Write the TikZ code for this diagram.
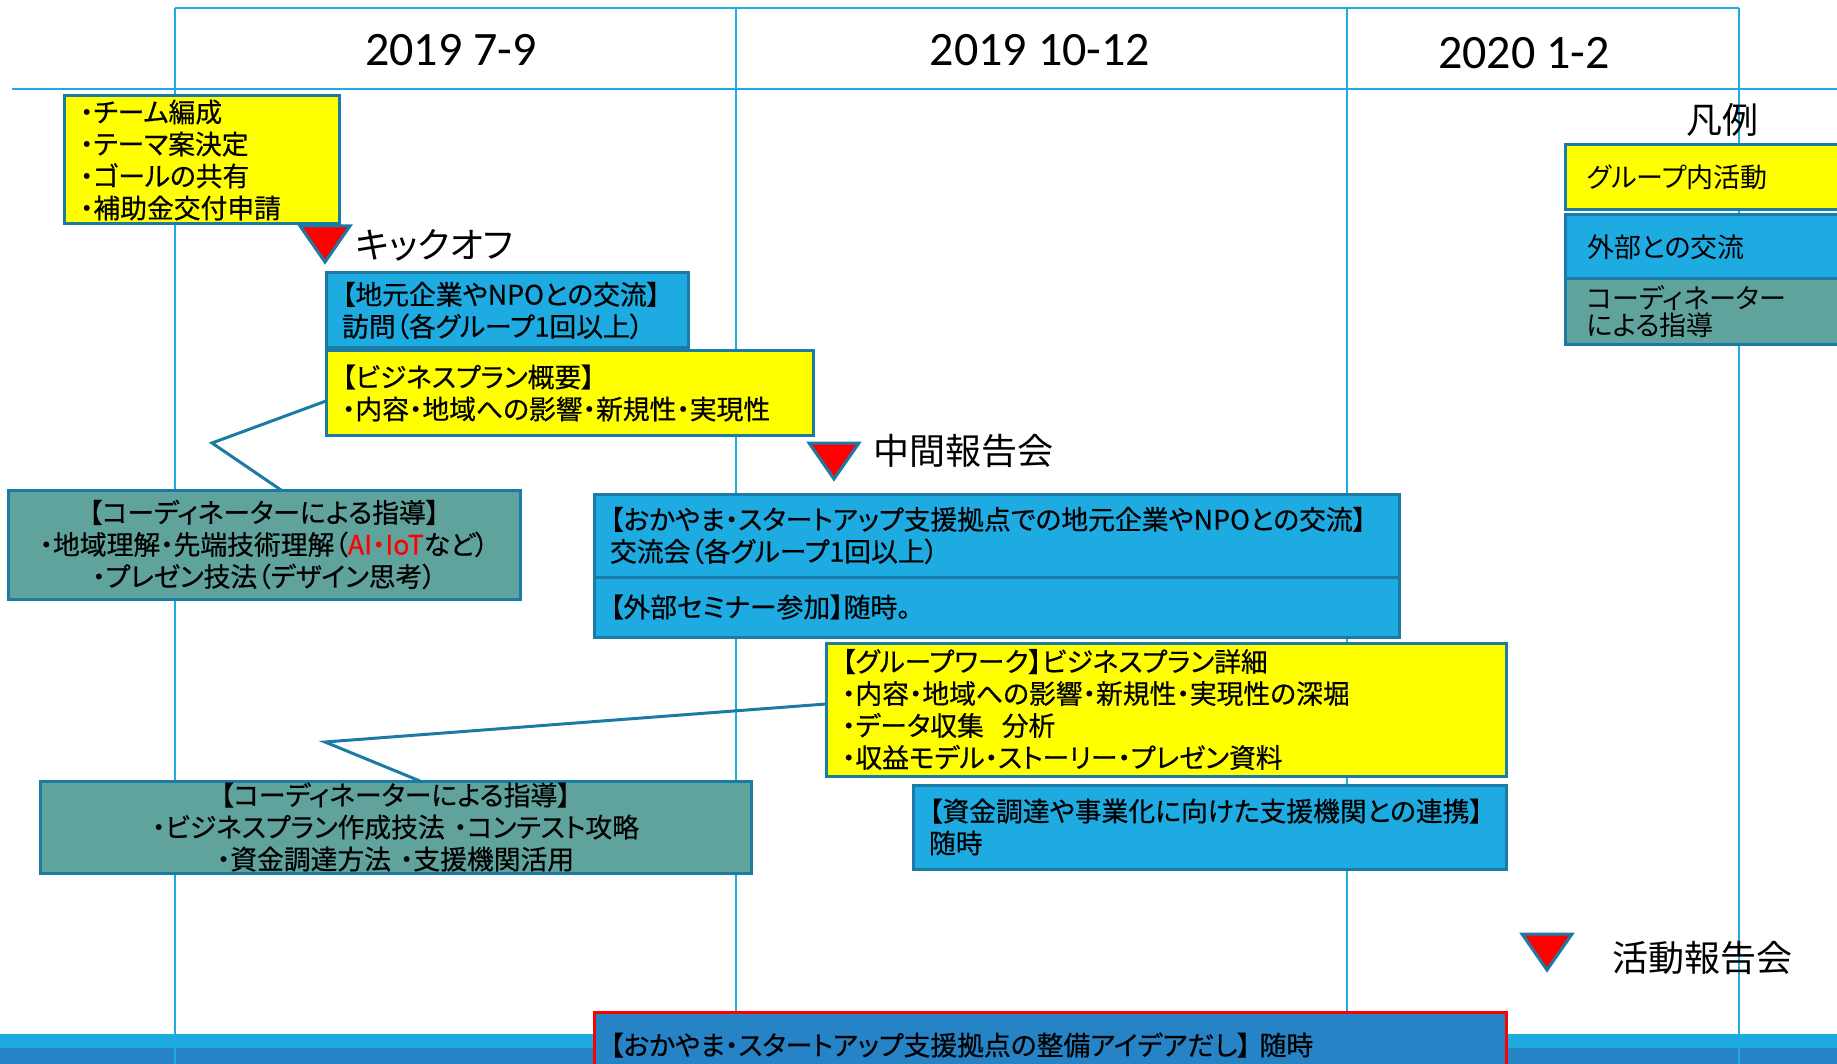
\documentclass[tikz,border=0pt]{standalone}
\usepackage{fontspec}
\setmainfont{Carlito}
\newfontfamily\jp{Noto Sans CJK JP}[RawFeature=+palt]
\newfontfamily\jpbox{Noto Sans CJK JP}[RawFeature=+palt, FakeBold=0.5]
\usetikzlibrary{positioning}

\definecolor{gridblue}{HTML}{1DABE2}
\definecolor{boxblue}{HTML}{1DABE2}
\definecolor{bandblue}{HTML}{2683C6}
\definecolor{boxteal}{HTML}{5FA39C}
\definecolor{boxyellow}{HTML}{FFFF00}
\definecolor{edgeblue}{HTML}{1B7BA4}

\tikzset{
  grid line/.style={draw=gridblue, line width=1.2pt},
  box/.style={draw=edgeblue, line width=1.5pt, outer sep=0pt, anchor=north west,
    inner xsep=8pt, inner ysep=0pt, font=\jpbox\fontsize{13.4}{16}\selectfont},
  groupbox/.style={box, fill=boxyellow, align=left},
  linkbox/.style={box, fill=boxblue, align=left},
  coachbox/.style={box, fill=boxteal, align=center},
  keybox/.style={box, minimum width=150pt, text width=128pt, inner xsep=11pt,
    font=\jp\fontsize{13.5}{13.5}\selectfont},
  milestone/.style={fill=red, draw=edgeblue, line width=1.5pt},
  mslabel/.style={anchor=west, inner sep=0pt, font=\jp\fontsize{18}{18}\selectfont},
  period/.style={font=\fontsize{24}{24}\selectfont},
  callout/.style={draw=edgeblue, line width=1.5pt},
}

\begin{document}
\begin{tikzpicture}[x=0.5pt, y=-0.5pt]
  \useasboundingbox (0,0) rectangle (1837,1064);
  \clip (0,0) rectangle (1837,1064);
  \fill[gridblue] (0,1034) rectangle (1837,1048);
  \fill[bandblue] (0,1048) rectangle (1837,1064);
  \draw[grid line] (175,8) -- (1739,8);
  \draw[grid line] (12,89) -- (1837,89);
  \foreach \x in {175,736,1347,1739}
    \draw[grid line] (\x,8) -- (\x,1064);
  \node[period] (q3) at (451,50) {2019 7-9};
  \node[period] (q4) at (1040,50) {2019 10-12};
  \node[period] (q1) at (1524,53) {2020 1-2};

  \node[mslabel, anchor=center] (legend) at (1722,120) {凡例};
  \node[keybox, fill=boxyellow, minimum height=32.5pt] (keygroup) at (1565,145) {グループ内活動};
  \node[keybox, fill=boxblue, minimum height=32pt] (keylink) at (1565,215) {外部との交流};
  \node[keybox, fill=boxteal, minimum height=33pt, align=left] (keycoach) at (1565,279) {コーディネーター\\による指導};

  \node[groupbox, text width=121.5pt, minimum height=64pt] (team) at (64,96)
    {・チーム編成\\・テーマ案決定\\・ゴールの共有\\・補助金交付申請};
  \coordinate (kickoff) at (325,262);
  \draw[milestone] (kickoff) -- ++(-25,-36) -- ++(50,0) -- cycle;
  \node[mslabel] (kickofftext) at (355,245) {キックオフ};

  \node[linkbox, text width=165pt, minimum height=37.5pt] (visit) at (326,273)
    {【地元企業やNPOとの交流】\\訪問（各グループ1回以上）};
  \node[groupbox, text width=227.5pt, minimum height=42pt,
    below=1.5pt of visit.south west, anchor=north west] (outline)
    {【ビジネスプラン概要】\\・内容・地域への影響・新規性・実現性};
  \node[coachbox, text width=240pt, minimum height=54.5pt] (coach1) at (8,490)
    {【コーディネーターによる指導】\\・地域理解・先端技術理解（{\color{red}AI・IoT}など）\\・プレゼン技法（デザイン思考）};

  \coordinate (midterm) at (834,479);
  \draw[milestone] (midterm) -- ++(-25,-36) -- ++(50,0) -- cycle;
  \node[mslabel] (midtermtext) at (873,451) {中間報告会};

  \node[linkbox, text width=386.5pt, minimum height=41.5pt] (hub) at (594,494)
    {【おかやま・スタートアップ支援拠点での地元企業やNPOとの交流】\\交流会（各グループ1回以上）};
  \node[linkbox, text width=386.5pt, minimum height=30pt,
    below=0pt of hub.south west, anchor=north west] (seminar)
    {【外部セミナー参加】随時。};
  \node[groupbox, text width=324pt, minimum height=66.5pt] (work) at (826,643)
    {【グループワーク】ビジネスプラン詳細\\・内容・地域への影響・新規性・実現性の深堀\\・データ収集\ \ 分析\\・収益モデル・ストーリー・プレゼン資料};
  \node[coachbox, text width=339.5pt, minimum height=46pt] (coach2) at (40,781)
    {【コーディネーターによる指導】\\・ビジネスプラン作成技法 ・コンテスト攻略\\・資金調達方法 ・支援機関活用};
  \node[linkbox, text width=280.5pt, minimum height=42pt] (funding) at (913,785)
    {【資金調達や事業化に向けた支援機関との連携】\\随時};

  \coordinate (final) at (1547,970);
  \draw[milestone] (final) -- ++(-25,-36) -- ++(50,0) -- cycle;
  \node[mslabel] (finaltext) at (1612,958) {活動報告会};

  \node[linkbox, draw=red, fill=bandblue, text width=440pt, minimum height=33pt] (ideas) at (594,1012)
    {【おかやま・スタートアップ支援拠点の整備アイデアだし】 随時};

  \coordinate (knee1) at (212,443);
  \coordinate (knee2) at (325,742);
  \draw[callout] ([yshift=-4pt]outline.west) -- (knee1) -- ([xshift=136.5pt]coach1.north west);
  \draw[callout] ([yshift=2.75pt]work.west) -- (knee2) -- ([xshift=190pt]coach2.north west);
\end{tikzpicture}
\end{document}
